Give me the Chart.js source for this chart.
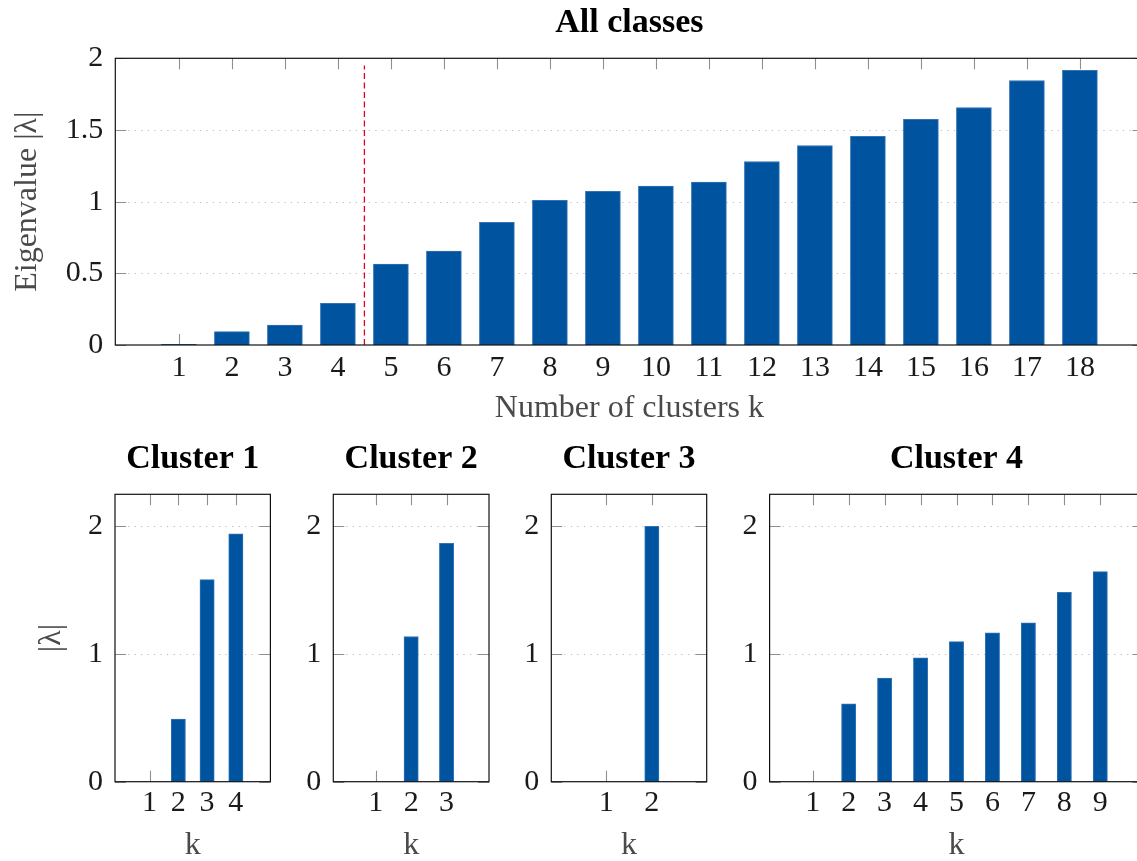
<!DOCTYPE html>
<html>
<head>
<meta charset="utf-8">
<script src="https://cdn.jsdelivr.net/npm/chart.js@4.4.1/dist/chart.umd.min.js"></script>
<style>
html, body { margin: 0; padding: 0; background: #fff; overflow: hidden; width: 1137px; height: 861px; }
canvas { position: absolute; }
</style>
</head>
<body>
<canvas id="cAll" width="1150" height="430" style="left:0px;top:0px"></canvas>
<canvas id="c1" width="290" height="431" style="left:0px;top:430px"></canvas>
<canvas id="c2" width="220" height="431" style="left:290px;top:430px"></canvas>
<canvas id="c3" width="220" height="431" style="left:510px;top:430px"></canvas>
<canvas id="c4" width="420" height="431" style="left:730px;top:430px"></canvas>
<script>
// ---------------- data ----------------
const allK = [1, 2, 3, 4, 5, 6, 7, 8, 9, 10, 11, 12, 13, 14, 15, 16, 17, 18];
const allValues = [0.004, 0.093, 0.139, 0.29, 0.564, 0.655, 0.856, 1.01, 1.072, 1.108, 1.136, 1.28, 1.392, 1.456, 1.575, 1.657, 1.845, 1.916];
const allYTicks = [0, 0.5, 1, 1.5, 2];
const cutoffK = 4.5;
const cutoffTop = 1.95;

const cluster1K = [1, 2, 3, 4];
const cluster1Values = [0, 0.49, 1.582, 1.94];
const cluster2K = [1, 2, 3];
const cluster2Values = [0, 1.137, 1.867];
const cluster3K = [1, 2];
const cluster3Values = [0, 2.0];
const cluster4K = [1, 2, 3, 4, 5, 6, 7, 8, 9];
const cluster4Values = [0, 0.609, 0.811, 0.970, 1.096, 1.165, 1.243, 1.483, 1.645];
const clusterYTicks = [0, 1, 2];

// ---------------- style ----------------
const FONT = "'Liberation Serif', 'Times New Roman', serif";
const BLUE = '#00549f';
const RED = '#e30022';

const pgfPlugin = {
  id: 'pgfFrame',
  beforeDatasetsDraw(chart) {
    const { ctx, chartArea: a, scales: { x, y } } = chart;
    ctx.save();
    // dotted horizontal grid
    ctx.strokeStyle = '#bdbdbd';
    ctx.lineWidth = 1;
    ctx.setLineDash([1.3, 5.2]);
    y.ticks.forEach(t => {
      if (t.value > y.min && t.value < y.max) {
        const py = Math.round(y.getPixelForValue(t.value)) + 0.5;
        ctx.beginPath(); ctx.moveTo(a.left, py); ctx.lineTo(a.right, py); ctx.stroke();
      }
    });
    ctx.setLineDash([]);
    // inward tick marks
    const L = 11;
    ctx.strokeStyle = '#8f8f8f';
    ctx.lineWidth = 1.1;
    y.ticks.forEach(t => {
      const py = Math.round(y.getPixelForValue(t.value)) + 0.5;
      ctx.beginPath();
      ctx.moveTo(a.left, py); ctx.lineTo(a.left + L, py);
      ctx.moveTo(a.right, py); ctx.lineTo(a.right - L, py);
      ctx.stroke();
    });
    x.ticks.forEach(t => {
      const px = Math.round(x.getPixelForValue(t.value)) + 0.5;
      ctx.beginPath();
      ctx.moveTo(px, a.top); ctx.lineTo(px, a.top + L);
      ctx.moveTo(px, a.bottom); ctx.lineTo(px, a.bottom - L);
      ctx.stroke();
    });
    ctx.restore();
  },
  afterDatasetsDraw(chart) {
    const { ctx, chartArea: a } = chart;
    ctx.save();
    ctx.strokeStyle = '#111';
    ctx.lineWidth = 1.2;
    ctx.strokeRect(a.left, a.top, a.right - a.left, a.bottom - a.top);
    ctx.restore();
  }
};

function barChart(canvasId, cfg) {
  const datasets = [{
    type: 'bar',
    data: cfg.k.map((k, i) => ({ x: k, y: cfg.values[i] })),
    backgroundColor: BLUE,
    borderColor: '#3273b5',
    borderWidth: 1,
    borderSkipped: 'start',
    barThickness: cfg.barThickness,
    order: 2
  }];
  if (cfg.cutoff) {
    datasets.push({
      type: 'line',
      data: cfg.cutoff,
      borderColor: RED,
      borderWidth: 1.3,
      borderDash: [6, 3.5],
      pointRadius: 0,
      fill: false,
      order: 1
    });
  }
  return new Chart(document.getElementById(canvasId), {
    type: 'bar',
    data: { datasets },
    plugins: [pgfPlugin],
    options: {
      responsive: false,
      animation: false,
      events: [],
      layout: { padding: cfg.padding },
      plugins: {
        legend: { display: false },
        tooltip: { enabled: false },
        title: {
          display: true, text: cfg.title, fullSize: false, color: '#000',
          font: { family: FONT, size: 34, weight: 'bold' },
          padding: cfg.titlePad
        }
      },
      scales: {
        x: {
          type: 'linear', offset: false, min: cfg.xMin, max: cfg.xMax,
          grid: { display: false, drawTicks: false },
          border: { display: false },
          afterBuildTicks: s => { s.ticks = cfg.k.map(v => ({ value: v })); },
          afterFit: s => { s.height = cfg.xHeight; },
          ticks: {
            autoSkip: false, maxRotation: 0, minRotation: 0, padding: cfg.xTickPad,
            color: '#1a1a1a', font: { family: FONT, size: 30 },
            callback: v => String(v)
          },
          title: {
            display: true, text: cfg.xTitle, color: '#4a4a4a',
            font: { family: FONT, size: 32 },
            padding: { top: 0, bottom: cfg.xTitlePadB }
          }
        },
        y: {
          type: 'linear', min: cfg.yMin, max: cfg.yMax,
          grid: { display: false, drawTicks: false },
          border: { display: false },
          afterBuildTicks: s => { s.ticks = cfg.yTicks.map(v => ({ value: v })); },
          afterFit: s => { s.width = cfg.yWidth; },
          ticks: {
            padding: 12, color: '#1a1a1a', font: { family: FONT, size: 30 },
            callback: v => String(v)
          },
          title: {
            display: !!cfg.yTitle, text: cfg.yTitle || '', color: '#4a4a4a',
            font: { family: FONT, size: 32 },
            padding: { top: cfg.yTitlePadT || 0, bottom: 0 }
          }
        }
      }
    }
  });
}

const bottomCommon = {
  xMin: -0.2, yMin: 0, yMax: 2.25, yTicks: clusterYTicks,
  titlePad: { top: 8.6, bottom: 14.9 },
  xHeight: 79.3, xTickPad: 3.3, xTitlePadB: -4.2, xTitle: 'k',
  barThickness: 14.3
};

barChart('cAll', {
  k: allK, values: allValues, xMin: -0.2, xMax: 19.2, yMin: 0, yMax: 2, yTicks: allYTicks,
  title: 'All classes', xTitle: 'Number of clusters k', yTitle: 'Eigenvalue |λ|',
  padding: { left: 0, right: 6.5, top: 0, bottom: 0 },
  titlePad: { top: 2.6, bottom: 14.9 },
  yWidth: 115.3, xHeight: 85, xTickPad: 5.5, xTitlePadB: 1.8, yTitlePadT: 8.8,
  barThickness: 35,
  cutoff: [{ x: cutoffK, y: 0 }, { x: cutoffK, y: cutoffTop }]
});

barChart('c1', Object.assign({}, bottomCommon, {
  k: cluster1K, values: cluster1Values, xMax: cluster1K.length + 1.2,
  title: 'Cluster 1', yTitle: '|λ|', yTitlePadT: 32.5,
  padding: { left: 0, right: 19.6, top: 0, bottom: 0 }, yWidth: 115
}));
barChart('c2', Object.assign({}, bottomCommon, {
  k: cluster2K, values: cluster2Values, xMax: cluster2K.length + 1.2,
  title: 'Cluster 2',
  padding: { left: 0, right: 21, top: 0, bottom: 0 }, yWidth: 43.3
}));
barChart('c3', Object.assign({}, bottomCommon, {
  k: cluster3K, values: cluster3Values, xMax: cluster3K.length + 1.2,
  title: 'Cluster 3',
  padding: { left: 0, right: 23.3, top: 0, bottom: 0 }, yWidth: 41.3
}));
barChart('c4', Object.assign({}, bottomCommon, {
  k: cluster4K, values: cluster4Values, xMax: cluster4K.length + 1.2,
  title: 'Cluster 4',
  padding: { left: 0, right: 6.6, top: 0, bottom: 0 }, yWidth: 39.6
}));
</script>
</body>
</html>
